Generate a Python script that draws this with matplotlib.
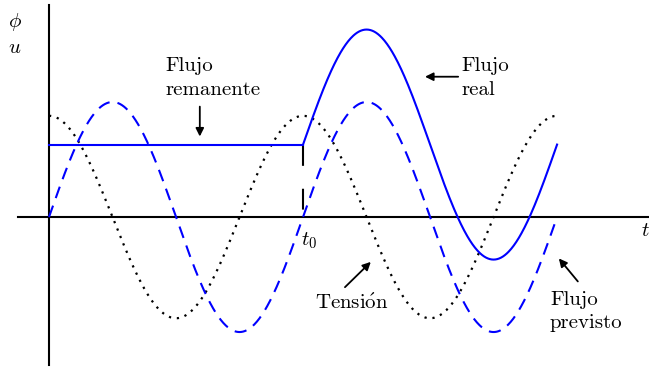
import numpy as np
import matplotlib
matplotlib.use("Agg")
import matplotlib.pyplot as plt

plt.rcParams["mathtext.fontset"] = "cm"
plt.rcParams["font.family"] = ["cmr10", "DejaVu Serif"]
plt.rcParams["axes.unicode_minus"] = False

# Model parameters (per-unit, time in radians)
flux_amplitude = 1.0        # prospective flux peak
voltage_amplitude = 0.88    # applied voltage peak
remanent_flux = 0.63        # residual flux before switching
t0 = 2 * np.pi              # switching instant
t_end = 4 * np.pi           # two full periods

t = np.linspace(0, t_end, 800)
voltage = voltage_amplitude * np.cos(t)
prospective_flux = flux_amplitude * np.sin(t)

t_after = np.linspace(t0, t_end, 400)
real_flux = remanent_flux + flux_amplitude * np.sin(t_after)

fig = plt.figure(figsize=(6.49, 3.70), dpi=100)
ax = fig.add_axes([0, 0, 1, 1])
ax.set_xlim(-1.212, 14.84)
ax.set_ylim(-1.330, 1.887)
ax.axis("off")

blue = "#0000ff"

# Coordinate axes
ax.plot([-0.77, 14.84], [0, 0], color="black", lw=1.5, zorder=1)
ax.plot([0, 0], [-1.29, 1.84], color="black", lw=1.5, zorder=1)

# Curves
ax.plot(t, voltage, color="black", lw=1.6, ls=(0, (1.0, 2.6)), zorder=2)
ax.plot(t, prospective_flux, color=blue, lw=1.5, ls=(0, (5.8, 3.85)), zorder=3)
ax.plot([0, t0], [remanent_flux, remanent_flux], color=blue, lw=1.5, zorder=3)
ax.plot(t_after, real_flux, color=blue, lw=1.5, zorder=3)
ax.plot([t0, t0], [remanent_flux, 0], color="black", lw=1.5,
        ls=(0, (10, 11)), zorder=2)

fs = 15
ax.text(-0.84, 1.70, r"$\phi$", fontsize=fs, ha="center", va="center")
ax.text(-0.84, 1.47, r"$u$", fontsize=fs, ha="center", va="center")
ax.text(t0 - 0.05, -0.21, r"$t_0$", fontsize=fs, ha="left", va="center")
ax.text(14.74, -0.12, r"$t$", fontsize=fs, ha="center", va="center")

arrow = dict(arrowstyle="-|>", color="black", lw=1.3, mutation_scale=12,
             shrinkA=0, shrinkB=0)

ax.text(2.87, 1.21, "Flujo\nremanente", fontsize=fs, ha="left", va="center",
        linespacing=1.4)
ax.annotate("", xy=(3.73, 0.70), xytext=(3.73, 0.96), arrowprops=arrow)

ax.text(10.21, 1.21, "Flujo\nreal", fontsize=fs, ha="left", va="center",
        linespacing=1.4)
ax.annotate("", xy=(9.30, 1.22), xytext=(10.12, 1.22), arrowprops=arrow)

ax.text(7.49, -0.75, r"Tensi$\mathrm{\acute{o}}$n", fontsize=fs,
        ha="center", va="center")
ax.annotate("", xy=(7.96, -0.39), xytext=(7.32, -0.61), arrowprops=arrow)

ax.text(12.39, -0.82, "Flujo\nprevisto", fontsize=fs, ha="left", va="center",
        linespacing=1.4)
ax.annotate("", xy=(12.61, -0.36), xytext=(13.08, -0.56), arrowprops=arrow)

fig.savefig("out.png", dpi=100)
